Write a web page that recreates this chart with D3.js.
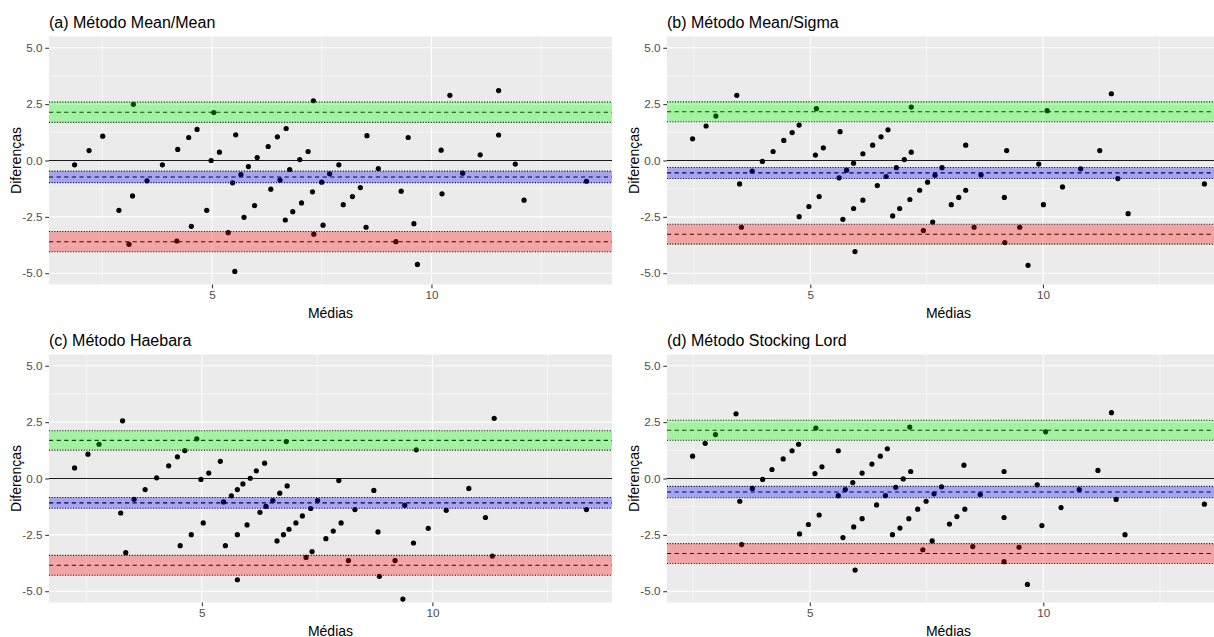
<!DOCTYPE html>
<html>
<head>
<meta charset="utf-8">
<script src="https://cdn.jsdelivr.net/npm/d3@7"></script>
<style>
  body { margin: 0; background: #ffffff; }
  svg { display: block; }
  text { font-family: "Liberation Sans", Arial, Helvetica, sans-serif; }
</style>
</head>
<body>
<svg id="chart" width="1214" height="637"></svg>
<script>
// Panel titles
const titles = [
  "(a) Método Mean/Mean",
  "(b) Método Mean/Sigma",
  "(c) Método Haebara",
  "(d) Método Stocking Lord"
];

// Axis ticks
const xTicks = [5, 10];
const xMinor = [2.5, 7.5, 12.5];
const yTicks = [-5, -2.5, 0, 2.5, 5];
const yMinor = [-3.75, -1.25, 1.25, 3.75];

// (a) Mean/Mean: médias and diferenças
const mediasMeanMean = [1.87, 2.20, 2.51, 2.88, 3.11, 3.19, 3.21, 3.52, 3.87, 4.20, 4.22, 4.47, 4.53, 4.66, 4.88, 4.98, 5.04, 5.17, 5.37, 5.47, 5.52, 5.54, 5.66, 5.73, 5.83, 5.97, 6.03, 6.28, 6.34, 6.49, 6.55, 6.67, 6.69, 6.77, 6.84, 7.00, 7.04, 7.19, 7.29, 7.31, 7.32, 7.50, 7.53, 7.68, 7.89, 7.99, 8.20, 8.38, 8.51, 8.53, 8.79, 9.19, 9.31, 9.47, 9.60, 9.68, 10.22, 10.24, 10.42, 10.71, 11.11, 11.53, 11.53, 11.91, 12.11, 13.53];
const difMeanMean = [-0.19, 0.44, 1.08, -2.21, -3.72, -1.57, 2.49, -0.90, -0.19, -3.57, 0.49, 1.02, -2.92, 1.38, -2.21, 0.00, 2.13, 0.37, -3.20, -0.99, -4.92, 1.14, -0.62, -2.52, -0.27, -2.00, 0.13, 0.62, -1.27, 1.05, -0.87, -2.64, 1.42, -0.40, -2.27, 0.04, -1.88, 0.40, -1.39, 2.65, -3.27, -0.96, -2.87, -0.59, -0.19, -1.96, -1.60, -1.20, -2.96, 1.10, -0.36, -3.60, -1.36, 1.02, -2.80, -4.61, 0.46, -1.48, 2.89, -0.56, 0.25, 3.10, 1.13, -0.16, -1.76, -0.92];

// (b) Mean/Sigma
const mediasMeanSigma = [2.47, 2.76, 2.97, 3.42, 3.48, 3.52, 3.75, 3.97, 4.20, 4.43, 4.61, 4.76, 4.76, 4.97, 5.11, 5.13, 5.19, 5.28, 5.62, 5.64, 5.70, 5.78, 5.93, 5.93, 5.96, 6.13, 6.13, 6.34, 6.44, 6.52, 6.63, 6.67, 6.77, 6.85, 6.92, 7.02, 7.14, 7.17, 7.17, 7.35, 7.43, 7.52, 7.63, 7.68, 7.83, 8.03, 8.19, 8.34, 8.34, 8.52, 8.67, 9.17, 9.18, 9.22, 9.50, 9.68, 9.91, 10.01, 10.09, 10.42, 10.81, 11.22, 11.47, 11.61, 11.83, 13.47];
const difMeanSigma = [0.96, 1.53, 1.97, 2.89, -1.04, -2.96, -0.47, -0.04, 0.40, 0.89, 1.24, 1.57, -2.49, -2.04, 0.24, 2.30, -1.60, 0.56, -0.77, 1.28, -2.61, -0.43, -2.13, -0.12, -4.04, -1.76, 0.30, 0.68, -1.11, 1.05, -0.71, 1.36, -2.46, -0.32, -2.13, 0.04, -1.73, 2.37, 0.37, -1.32, -3.11, -0.96, -2.73, -0.65, -0.32, -1.96, -1.64, 0.68, -1.32, -2.96, -0.64, -1.64, -3.64, 0.44, -2.96, -4.65, -0.16, -1.96, 2.21, -1.17, -0.37, 0.44, 2.96, -0.80, -2.36, -1.04];

// (c) Haebara
const mediasHaebara = [2.24, 2.53, 2.77, 3.24, 3.28, 3.35, 3.53, 3.77, 4.02, 4.28, 4.47, 4.53, 4.63, 4.77, 4.89, 4.98, 5.03, 5.15, 5.40, 5.47, 5.51, 5.64, 5.77, 5.77, 5.77, 5.89, 5.98, 6.05, 6.18, 6.26, 6.36, 6.39, 6.54, 6.63, 6.69, 6.77, 6.83, 6.85, 6.89, 7.04, 7.18, 7.26, 7.36, 7.39, 7.51, 7.69, 7.85, 7.97, 8.02, 8.18, 8.32, 8.73, 8.82, 8.85, 9.19, 9.36, 9.40, 9.59, 9.65, 9.91, 10.30, 10.79, 11.15, 11.30, 11.34, 13.34];
const difHaebara = [0.47, 1.08, 1.52, -1.53, 2.56, -3.29, -0.92, -0.49, 0.03, 0.56, 0.96, -2.98, 1.24, -2.49, 1.76, -0.04, -1.97, 0.24, 0.76, -1.04, -2.98, -0.77, -2.49, -0.49, -4.49, -0.24, -2.06, 0.01, 0.34, -1.50, 0.68, -1.24, -0.98, -2.77, -0.65, -2.49, 1.64, -0.33, -2.25, -1.97, -1.66, -3.50, -1.33, -3.24, -0.98, -2.67, -2.33, -0.09, -1.97, -3.64, -1.38, -0.53, -2.37, -4.34, -3.64, -5.35, -1.19, -2.86, 1.27, -2.21, -1.41, -0.44, -1.73, -3.44, 2.67, -1.38];

// (d) Stocking Lord
const mediasStockingLord = [2.49, 2.76, 2.98, 3.42, 3.50, 3.54, 3.77, 3.99, 4.19, 4.43, 4.62, 4.76, 4.78, 4.97, 5.11, 5.13, 5.20, 5.26, 5.61, 5.61, 5.71, 5.76, 5.94, 5.92, 5.97, 6.12, 6.12, 6.33, 6.43, 6.51, 6.62, 6.66, 6.77, 6.84, 6.93, 7.00, 7.12, 7.14, 7.16, 7.31, 7.42, 7.49, 7.62, 7.66, 7.82, 7.99, 8.15, 8.30, 8.32, 8.49, 8.65, 9.16, 9.16, 9.16, 9.48, 9.66, 9.87, 9.97, 10.05, 10.38, 10.77, 11.17, 11.46, 11.56, 11.75, 13.45];
const difStockingLord = [0.99, 1.56, 1.95, 2.87, -1.01, -2.93, -0.44, -0.04, 0.40, 0.87, 1.23, 1.52, -2.46, -2.04, 0.22, 2.24, -1.62, 0.52, -0.76, 1.23, -2.62, -0.49, -2.15, -0.18, -4.06, -1.78, 0.24, 0.64, -1.17, 0.99, -0.76, 1.32, -2.49, -0.39, -2.20, -0.02, -1.78, 2.28, 0.31, -1.36, -3.16, -1.01, -2.77, -0.68, -0.37, -2.02, -1.69, 0.59, -1.36, -3.02, -0.71, 0.31, -1.73, -3.69, -3.05, -4.70, -0.28, -2.09, 2.07, -1.29, -0.49, 0.36, 2.92, -0.93, -2.49, -1.14];

// Limits: [CI lower, estimate, CI upper] for lower LoA, mean bias, upper LoA
const limitsMeanMean     = [[-4.05, -3.60, -3.15], [-0.98, -0.73, -0.47], [1.69, 2.14, 2.59]];
const limitsMeanSigma    = [[-3.71, -3.27, -2.83], [-0.80, -0.55, -0.31], [1.72, 2.16, 2.60]];
const limitsHaebara      = [[-4.29, -3.85, -3.41], [-1.32, -1.08, -0.84], [1.26, 1.69, 2.12]];
const limitsStockingLord = [[-3.77, -3.33, -2.89], [-0.85, -0.60, -0.35], [1.70, 2.14, 2.58]];

// Band fills: lower LoA, bias, upper LoA
const bandColors = ["#FF0000", "#0000FF", "#00FF00"];

const svg = d3.select("#chart");
const PW = 563, PH = 248;

const panels = [
  { title: titles[0], xs: mediasMeanMean,     ys: difMeanMean,     lim: limitsMeanMean,     left: 49,  top: 36.5 },
  { title: titles[1], xs: mediasMeanSigma,    ys: difMeanSigma,    lim: limitsMeanSigma,    left: 667, top: 36.5 },
  { title: titles[2], xs: mediasHaebara,      ys: difHaebara,      lim: limitsHaebara,      left: 49,  top: 354.5 },
  { title: titles[3], xs: mediasStockingLord, ys: difStockingLord, lim: limitsStockingLord, left: 667, top: 354.5 }
];

panels.forEach(p => {
  const g = svg.append("g");
  const ext = d3.extent(p.xs);
  const pad = (ext[1] - ext[0]) * 0.05;
  const x = d3.scaleLinear().domain([ext[0] - pad, ext[1] + pad]).range([p.left, p.left + PW]);
  const y = d3.scaleLinear().domain([-5.5, 5.5]).range([p.top + PH, p.top]);
  const x0 = p.left, x1 = p.left + PW;

  // panel background
  g.append("rect").attr("x", x0).attr("y", p.top).attr("width", PW).attr("height", PH).attr("fill", "#EBEBEB");

  // grid: minor then major
  g.selectAll(null).data(yMinor).join("line")
    .attr("x1", x0).attr("x2", x1).attr("y1", d => y(d)).attr("y2", d => y(d))
    .attr("stroke", "#ffffff").attr("stroke-width", 0.55);
  g.selectAll(null).data(xMinor.filter(v => v > x.domain()[0] && v < x.domain()[1])).join("line")
    .attr("x1", d => x(d)).attr("x2", d => x(d)).attr("y1", p.top).attr("y2", p.top + PH)
    .attr("stroke", "#ffffff").attr("stroke-width", 0.55);
  g.selectAll(null).data(yTicks).join("line")
    .attr("x1", x0).attr("x2", x1).attr("y1", d => y(d)).attr("y2", d => y(d))
    .attr("stroke", "#ffffff").attr("stroke-width", 1.07);
  g.selectAll(null).data(xTicks).join("line")
    .attr("x1", d => x(d)).attr("x2", d => x(d)).attr("y1", p.top).attr("y2", p.top + PH)
    .attr("stroke", "#ffffff").attr("stroke-width", 1.07);

  // zero reference
  g.append("line").attr("x1", x0).attr("x2", x1).attr("y1", y(0)).attr("y2", y(0))
    .attr("stroke", "#1a1a1a").attr("stroke-width", 1.1);

  // points
  const pts = p.xs.map((v, i) => [v, p.ys[i]]);
  g.selectAll(null).data(pts).join("circle")
    .attr("cx", d => x(d[0])).attr("cy", d => y(d[1])).attr("r", 2.6).attr("fill", "#000000");

  // estimate (dashed) and CI bounds (dotted)
  p.lim.forEach(l => {
    g.append("line").attr("x1", x0).attr("x2", x1).attr("y1", y(l[1])).attr("y2", y(l[1]))
      .attr("stroke", "#000000").attr("stroke-width", 1.07).attr("stroke-dasharray", "4.2,3.4");
    [l[0], l[2]].forEach(v => {
      g.append("line").attr("x1", x0).attr("x2", x1).attr("y1", y(v)).attr("y2", y(v))
        .attr("stroke", "#000000").attr("stroke-width", 1.07).attr("stroke-dasharray", "1.07,1.6");
    });
  });

  // translucent confidence bands
  p.lim.forEach((l, i) => {
    g.append("rect").attr("x", x0).attr("width", PW)
      .attr("y", y(l[2])).attr("height", y(l[0]) - y(l[2]))
      .attr("fill", bandColors[i]).attr("fill-opacity", 0.3);
  });

  // axes
  const ax = d3.axisBottom(x).tickValues(xTicks).tickSize(3.7).tickPadding(2.9).tickFormat(d => String(d));
  const xg = g.append("g").attr("transform", `translate(0,${p.top + PH})`).call(ax);
  const ay = d3.axisLeft(y).tickValues(yTicks).tickSize(3.7).tickPadding(2.9).tickFormat(d => d.toFixed(1));
  const yg = g.append("g").attr("transform", `translate(${x0},0)`).call(ay);
  [xg, yg].forEach(a => {
    a.select(".domain").remove();
    a.selectAll(".tick line").attr("stroke", "#333333").attr("stroke-width", 1.07);
    a.selectAll(".tick text").attr("fill", "#4D4D4D").style("font-size", "11.7px")
      .style("font-family", '"Liberation Sans", Arial, sans-serif');
  });

  // titles
  g.append("text").attr("x", x0).attr("y", p.top - 8.2)
    .attr("fill", "#000000").style("font-size", "16px").text(p.title);
  g.append("text").attr("x", x0 + PW / 2).attr("y", p.top + PH + 33)
    .attr("text-anchor", "middle").attr("fill", "#000000").style("font-size", "14px").text("Médias");
  g.append("text")
    .attr("transform", `translate(${x0 - 28.5},${p.top + PH / 2}) rotate(-90)`)
    .attr("text-anchor", "middle").attr("fill", "#000000").style("font-size", "14px").text("Diferenças");
});
</script>
</body>
</html>
